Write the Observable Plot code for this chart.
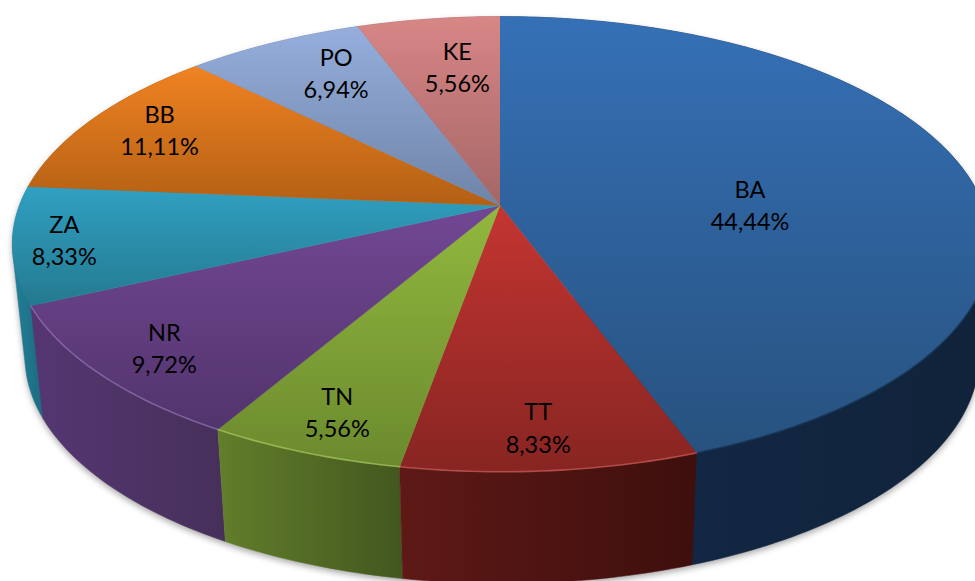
<!DOCTYPE html>
<html><head><meta charset="utf-8">
<script src="https://cdn.jsdelivr.net/npm/d3@7"></script>
<script src="https://cdn.jsdelivr.net/npm/@observablehq/plot@0.6"></script>
<style>
html,body{margin:0;padding:0;background:#fff;overflow:hidden}
svg{display:block}
.pie-shadow{filter:blur(3px)}
.pie-rim{filter:blur(.7px)}
</style></head><body><div id="chart"></div>
<script>
// Data
const regions = ["BA","TT","TN","NR","ZA","BB","PO","KE"];
const shares = [44.44,8.33,5.56,9.72,8.33,11.11,6.94,5.56];
const colorsLight = ["#3570b6","#c43531","#92b83e","#724794","#30a0c2","#f08222","#95aedc","#d88686"];
const colorsDark = ["#27527f","#872522","#6b8a2e","#52346c","#24798f","#b36014","#6f84a8","#a56666"];
const sideLeft = ["#13294a","#5e1916","#627e2b","#553672","#238099","#a85c14","#667ea6","#a06060"];
const sideRight = ["#11233a","#3e0f0d","#42571e","#46305a","#1c6a80","#8a4c10","#566a8c","#885050"];
const rimColors = ["#16304f","#c9605a","#a9c860","#9273b4","#4ab0cc","#f09a50","#a9bde0","#e0a0a0"];

// Perspective model of the tilted disc, in units of the top disc's radius
const k = 0.17, skew = 0.003, radiusPx = 482;
const project = (deg, r, face) => {
  const a = deg * Math.PI / 180, u = r * Math.sin(a), v = r * Math.cos(a);
  const w = 1 + k * v - skew * u;
  return face === "top"
    ? {x: u / w, y: v / w}
    : {x: (0.5 + 470 * u / w) / radiusPx, y: -(113 - 220 * v / w) / 221};
};
const total = d3.sum(shares);
let cum = 0;
const slices = shares.map((s, i) => {
  const start = cum / total * 360; cum += s;
  return {i, name: regions[i], share: s, start, end: cum / total * 360};
});
const arc = (a0, a1, face) => d3.range(0, 1.0001, 1 / Math.max(2, Math.ceil(a1 - a0)))
  .map(t => project(a0 + (a1 - a0) * t, 1, face));
const hull = pts => d3.polygonHull(pts.map(p => [p.x, p.y])).map(([x, y]) => ({x, y}));
const topFace = s => [project(0, 0, "top"), ...arc(s.start, s.end, "top")];
const sideFace = s => hull([...arc(s.start, s.end, "top"), ...arc(s.start, s.end, "bottom")]);
const frontSlices = slices.filter(s => s.start < 240);
const rimLine = s => arc(Math.max(s.start, 100), s.end, "top");

const labelRadius = [.545,.84,.84,.84,.89,.835,.72,.6];
const labelDy = [19,5,4,3,-1.5,-3.5,-12,-21];
const labelDx = [-5,-3,-3,-6,-3,3,5,3];
const labels = slices.map(s => {
  const p = project((s.start + s.end) / 2, labelRadius[s.i], "top");
  return {...p, dx: labelDx[s.i], dy: labelDy[s.i], text: `${s.name}\n${d3.format(".2f")(s.share).replace(".", ",")}%`};
});

const defs = () => {
  const d = d3.create("svg:defs");
  const grad = (id, x2, y2, c0, c1) => {
    const g = d.append("linearGradient").attr("id", id)
      .attr("x1", 0).attr("y1", 0).attr("x2", x2).attr("y2", y2);
    g.append("stop").attr("offset", 0).attr("stop-color", c0);
    g.append("stop").attr("offset", 1).attr("stop-color", c1);
  };
  slices.forEach(s => {
    grad(`top${s.i}`, 0, 1, colorsLight[s.i], colorsDark[s.i]);
    grad(`side${s.i}`, 1, 0, sideLeft[s.i], sideRight[s.i]);
  });
  return d.node();
};

const backToFront = [5,6,7,4,0,3,2,1];
const lineOpts = {x: "x", y: "y"};
const chart = Plot.plot({
  width: 975, height: 581,
  margin: 0,
  x: {domain: [-499.5 / radiusPx, 475.5 / radiusPx], range: [0, 975], axis: null},
  y: {domain: [205 / 221, -376 / 221], range: [0, 581], axis: null},
  marks: [
    defs,
    Plot.line(hull([...arc(0, 360, "bottom"), ...arc(0, 360, "top")]), {...lineOpts, fill: "#8c8c8c", stroke: "none", dy: 3, fillOpacity: .75, className: "pie-shadow"}),
    ...backToFront.map(i => Plot.line(sideFace(slices[i]), {...lineOpts, fill: `url(#side${i})`, stroke: `url(#side${i})`, strokeWidth: .5})),
    ...slices.map(s => Plot.line(topFace(s), {...lineOpts, fill: `url(#top${s.i})`, stroke: `url(#top${s.i})`, strokeWidth: .5})),
    ...frontSlices.map(s => Plot.line(rimLine(s), {...lineOpts, stroke: rimColors[s.i], strokeWidth: 1.6, strokeOpacity: .7, className: "pie-rim"})),
    ...labels.map(l => Plot.text([l], {...lineOpts, text: "text", dx: l.dx, dy: l.dy, fontSize: 23.5, lineHeight: 1.37, fill: "#000", fontFamily: "Lato, 'Open Sans', sans-serif"}))
  ]
});
chart.style.background = "#fff";
document.getElementById("chart").append(chart);
</script></body></html>
